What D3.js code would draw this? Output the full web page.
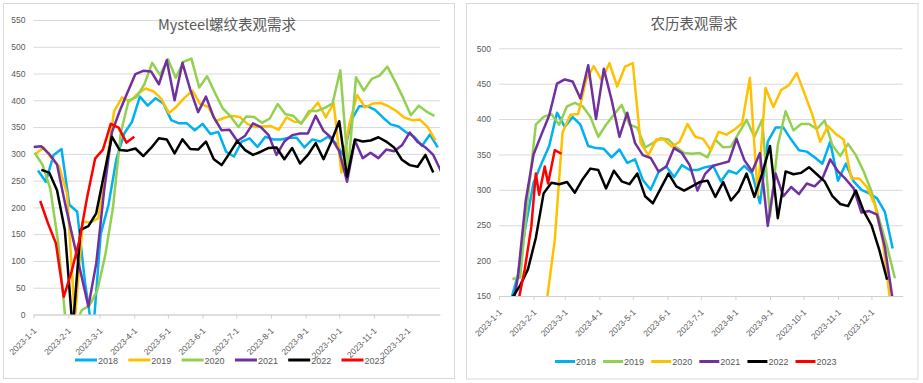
<!DOCTYPE html>
<html>
<head>
<meta charset="utf-8">
<script src="https://cdn.jsdelivr.net/npm/d3@7"></script>
<style>
  body { margin: 0; background: #fff; }
</style>
</head>
<body>
<div id="chart"></div>
<script>
// ---------------- data ----------------
const years = ["2018", "2019", "2020", "2021", "2022", "2023"];

// Mysteel weekly apparent demand (left chart), first date of each series
const mStart = ["2023-01-05", "2023-01-03", "2023-01-02", "2023-01-01", "2023-01-08", "2023-01-07"];
const m2018 = [269, 248, 298, 309, 205, 192, 60, -40, 150, 205, 290, 338, 360, 407, 390, 404, 394, 363, 357, 357,
  344, 356, 337, 341, 304, 295, 323, 329, 313, 332, 327, 327, 330, 330, 312, 327, 323, 332, 320, 296,
  364, 389, 389, 382, 368, 355, 351, 340, 332, 315, 336, 312];
const m2019 = [300, 312, 292, 276, 225, -10, 173, 172, 180, 280, 380, 405, 398, 412, 422, 417, 403, 376, 389, 405,
  418, 393, 388, 361, 367, 371, 369, 356, 350, 351, 352, 345, 368, 360, 359, 378, 396, 368, 395, 265,
  355, 410, 387, 394, 395, 389, 380, 368, 363, 364, 350, 325];
const m2020 = [302, 280, 235, 135, -20, -30, 8, 17, 45, 110, 200, 340, 400, 406, 430, 470, 447, 477, 442, 472,
  478, 424, 445, 414, 385, 370, 350, 370, 369, 358, 366, 393, 374, 371, 356, 380, 380, 386, 394, 456,
  270, 443, 418, 440, 446, 463, 435, 405, 372, 390, 379, 371];
const m2021 = [313, 314, 300, 280, 209, 144, 80, 15, 95, 230, 340, 380, 415, 449, 455, 454, 430, 475, 400, 470,
  420, 378, 407, 368, 344, 345, 324, 334, 357, 350, 335, 298, 323, 335, 338, 338, 371, 343, 330, 305,
  248, 325, 292, 302, 292, 308, 305, 316, 340, 322, 312, 298, 267];
const m2022 = [270, 265, 232, 158, -30, 158, 165, 189, 262, 332, 307, 306, 310, 296, 311, 329, 327, 301, 327, 309,
  308, 323, 290, 279, 301, 324, 307, 298, 304, 311, 312, 290, 311, 282, 298, 320, 290, 323, 361, 257,
  327, 323, 325, 331, 323, 312, 289, 279, 276, 298, 265];
const m2023 = [212, 170, 133, 33, 80, 139, 220, 291, 308, 356, 349, 321, 332];

// lunar-calendar aligned apparent demand (right chart)
const lStart = ["2023-01-11", "2023-01-13", "2023-02-13", "2023-01-11", "2023-01-13"];
const l2018 = [140, 180, 250, 310, 337, 362, 409, 389, 403, 392, 362, 359, 358, 346, 357, 338, 343, 314, 300, 325,
  333, 318, 335, 328, 328, 332, 334, 312, 327, 323, 334, 323, 281, 368, 388, 388, 371, 356, 354, 346,
  337, 368, 313, 337, 312, 300, 295, 288, 269, 217];
const l2019 = [174, 176, 290, 392, 403, 407, 392, 418, 423, 418, 403, 375, 392, 406, 420, 392, 388, 360, 366, 373,
  371, 360, 352, 351, 352, 346, 371, 360, 361, 380, 399, 375, 399, 262, 363, 411, 384, 393, 393, 386,
  398, 363, 348, 365, 349, 326, 298, 258, 220, 175];
const l2020 = [145, 229, 381, 406, 407, 455, 475, 455, 479, 446, 474, 479, 366, 349, 371, 371, 361, 368, 393, 375,
  372, 356, 382, 378, 385, 394, 458, 292, 444, 417, 441, 448, 465, 436, 406, 368, 390, 379, 371, 316,
  316, 304, 279, 229, 140];
const l2021 = [110, 178, 285, 350, 378, 405, 450, 456, 453, 429, 476, 400, 471, 427, 375, 409, 366, 349, 345, 326,
  333, 359, 352, 335, 299, 323, 334, 337, 340, 372, 342, 326, 352, 249, 323, 291, 304, 294, 309, 305,
  316, 343, 326, 315, 302, 268, 270, 265, 219, 145];
const l2022 = [148, 165, 188, 232, 295, 310, 308, 311, 296, 315, 330, 328, 302, 327, 312, 308, 323, 291, 281, 302,
  323, 305, 299, 305, 311, 313, 290, 311, 285, 298, 323, 290, 323, 362, 260, 326, 322, 324, 332, 322,
  312, 291, 280, 277, 299, 270, 250, 215, 173];
// 2023 on the lunar chart: day offsets from 2023-01-01
const l2023Days = [17, 23, 29, 33, 36, 41, 44, 50, 56];
const l2023 = [140, 187, 248, 323, 293, 333, 309, 356, 351];

const mTicks = [0, 50, 100, 150, 200, 250, 300, 350, 400, 450, 500, 550];
const lTicks = [150, 200, 250, 300, 350, 400, 450, 500];

// ---------------- helpers ----------------
const parse = d3.timeParse("%Y-%m-%d");
const jan1 = parse("2023-01-01");
const fmt = d3.timeFormat("%Y-%-m-%-d");
const months = d3.timeMonth.range(jan1, parse("2023-12-02"));

function weekly(start, values) {
  const t0 = parse(start);
  return values.map((v, i) => ({date: d3.timeDay.offset(t0, 7 * i), value: v}));
}

const blue = "#00b0f0", yellow = "#ffc000", green = "#92d050", purple = "#7030a0", black = "#000000", red = "#ff0000";

const svg = d3.select("#chart").append("svg")
  .attr("width", 923)
  .attr("height", 383)
  .attr("font-family", "'Liberation Sans', Arial, sans-serif");

function drawPanel(p) {
  // frame
  svg.append("rect")
    .attr("x", p.frame[0]).attr("y", p.frame[1])
    .attr("width", p.frame[2]).attr("height", p.frame[3])
    .attr("fill", "#fff").attr("stroke", "#d9d9d9");

  const x = d3.scaleTime().domain([jan1, parse(p.end)]).range([p.x0, p.x1]);
  const y = d3.scaleLinear().domain(p.yDomain).range([p.y0, p.y1]);

  // y grid + labels
  const gy = svg.append("g")
    .attr("transform", "translate(" + p.x0 + ",0)")
    .call(d3.axisLeft(y).tickValues(p.yTicks).tickSize(-(p.x1 - p.x0)).tickPadding(8));
  gy.select(".domain").remove();
  gy.selectAll(".tick line").attr("stroke", "#d9d9d9").attr("stroke-width", 1);
  gy.selectAll(".tick text").attr("fill", "#595959").attr("font-size", 8.5);

  // x axis
  const gx = svg.append("g")
    .attr("transform", "translate(0," + p.y0 + ")")
    .call(d3.axisBottom(x).tickValues(months).tickFormat(fmt).tickSize(4).tickSizeOuter(0));
  gx.select(".domain").attr("stroke", "#d0d0d0");
  gx.selectAll(".tick line").attr("stroke", "#d0d0d0");
  gx.selectAll(".tick text")
    .attr("fill", "#595959").attr("font-size", 8.5)
    .attr("text-anchor", "end")
    .attr("y", 0).attr("dy", 0)
    .attr("transform", "translate(3,17) rotate(-45)");

  // clip to the plot area
  const clipId = "clip" + p.id;
  svg.append("clipPath").attr("id", clipId)
    .append("rect")
    .attr("x", p.x0).attr("y", p.y1 - 5)
    .attr("width", p.x1 - p.x0).attr("height", p.y0 - p.y1 + 5);

  const line = d3.line()
    .x(d => x(d.date))
    .y(d => y(d.value));

  const gl = svg.append("g").attr("clip-path", "url(#" + clipId + ")");
  p.series.forEach(s => {
    gl.append("path")
      .datum(s.data)
      .attr("fill", "none")
      .attr("stroke", s.color)
      .attr("stroke-width", 2.5)
      .attr("stroke-linejoin", "round")
      .attr("d", line);
  });

  // title
  svg.append("text")
    .attr("x", p.titleX).attr("y", p.titleY)
    .attr("text-anchor", "middle")
    .attr("font-family", "'Noto Sans CJK SC', sans-serif")
    .attr("font-size", 14.5)
    .attr("fill", "#595959")
    .text(p.title);

  // legend
  p.legendOrder.forEach((s, i) => {
    const lx = p.legendX + i * p.legendStep;
    svg.append("line")
      .attr("x1", lx).attr("x2", lx + p.legendLen)
      .attr("y1", p.legendY).attr("y2", p.legendY)
      .attr("stroke", s.color).attr("stroke-width", 3);
    svg.append("text")
      .attr("x", lx + p.legendLen + 1).attr("y", p.legendY + 3.5)
      .attr("font-size", 9).attr("fill", "#595959")
      .text(s.name);
  });
}

// ---------------- left: Mysteel ----------------
const mSeries = [
  {name: years[0], color: blue, data: weekly(mStart[0], m2018)},
  {name: years[1], color: yellow, data: weekly(mStart[1], m2019)},
  {name: years[2], color: green, data: weekly(mStart[2], m2020)},
  {name: years[3], color: purple, data: weekly(mStart[3], m2021)},
  {name: years[4], color: black, data: weekly(mStart[4], m2022)},
  {name: years[5], color: red, data: weekly(mStart[5], m2023)}
];

drawPanel({
  id: "m", frame: [3.5, 3.5, 451, 375],
  x0: 33.5, x1: 440, y0: 314.5, y1: 20,
  yDomain: [0, 550], yTicks: mTicks, end: "2023-12-30",
  title: "Mysteel螺纹表观需求", titleX: 227, titleY: 30,
  series: mSeries, legendOrder: mSeries,
  legendX: 75, legendStep: 53.3, legendLen: 22, legendY: 360
});

// ---------------- right: lunar calendar ----------------
const lSeries = [
  {name: years[0], color: blue, data: weekly(lStart[0], l2018)},
  {name: years[1], color: green, data: weekly(lStart[1], l2019)},
  {name: years[2], color: yellow, data: weekly(lStart[2], l2020)},
  {name: years[3], color: purple, data: weekly(lStart[3], l2021)},
  {name: years[4], color: black, data: weekly(lStart[4], l2022)},
  {name: years[5], color: red, data: l2023Days.map((d, i) => ({date: d3.timeDay.offset(jan1, d), value: l2023[i]}))}
];

drawPanel({
  id: "l", frame: [466.5, 3.5, 451.5, 375.5],
  x0: 499, x1: 902.7, y0: 296, y1: 48.3,
  yDomain: [150, 500], yTicks: lTicks, end: "2023-12-29",
  title: "农历表观需求", titleX: 694, titleY: 28.5,
  series: lSeries, legendOrder: lSeries,
  legendX: 555, legendStep: 48.1, legendLen: 20, legendY: 361.5
});
</script>
</body>
</html>
